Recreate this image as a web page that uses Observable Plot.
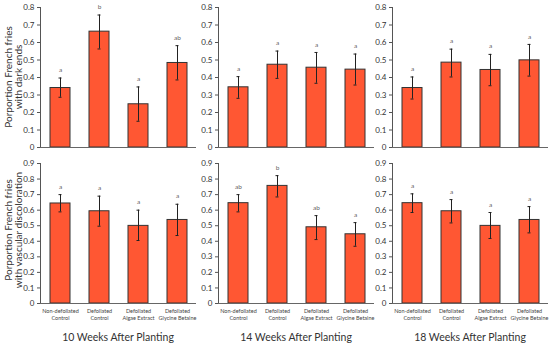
<!DOCTYPE html>
<html><head><meta charset="utf-8">
<script src="https://cdn.jsdelivr.net/npm/d3@7"></script>
<script src="https://cdn.jsdelivr.net/npm/@observablehq/plot@0.6"></script>
<style>
body{margin:0;background:#fff;}
#chart{position:relative;width:550px;height:345px;overflow:hidden;font-family:Lato, sans-serif;background:#fff;}
#chart svg{position:absolute;}
.lab{position:absolute;white-space:nowrap;color:#333;text-align:center;}
</style></head><body><div id="chart"></div>
<script>
// ---- data ----
const treatments = ["Non-defoliated Control", "Defoliated Control", "Defoliated Algae Extract", "Defoliated Glycine Betaine"];
const treatmentLabels = ["Non-defoliated\nControl", "Defoliated\nControl", "Defoliated\nAlgae Extract", "Defoliated\nGlycine Betaine"];
const timings = ["10 Weeks After Planting", "14 Weeks After Planting", "18 Weeks After Planting"];
const rowTitles = [["Porportion French fries", "with dark ends"], ["Porportion French fries", "with vascular discoloration"]];
const yTicksTop = [0, 0.1, 0.2, 0.3, 0.4, 0.5, 0.6, 0.7, 0.8];
const yTicksBottom = [0, 0.1, 0.2, 0.3, 0.4, 0.5, 0.6, 0.7, 0.8, 0.9];

// dark ends (per timing)
const darkMean = [[0.340, 0.662, 0.247, 0.483], [0.344, 0.473, 0.456, 0.445], [0.340, 0.485, 0.443, 0.498]];
const darkLow  = [[0.287, 0.563, 0.150, 0.386], [0.281, 0.395, 0.367, 0.357], [0.277, 0.403, 0.353, 0.408]];
const darkHigh = [[0.397, 0.757, 0.346, 0.582], [0.405, 0.551, 0.543, 0.534], [0.403, 0.562, 0.532, 0.589]];
const darkLetters = [["a", "b", "a", "ab"], ["a", "a", "a", "a"], ["a", "a", "a", "a"]];

// vascular discoloration (per timing)
const vascMean = [[0.643, 0.593, 0.499, 0.537], [0.645, 0.756, 0.490, 0.445], [0.645, 0.593, 0.499, 0.537]];
const vascLow  = [[0.589, 0.497, 0.405, 0.437], [0.589, 0.685, 0.411, 0.368], [0.585, 0.518, 0.418, 0.454]];
const vascHigh = [[0.700, 0.690, 0.600, 0.638], [0.700, 0.822, 0.565, 0.520], [0.705, 0.668, 0.585, 0.623]];
const vascLetters = [["a", "a", "a", "a"], ["ab", "b", "ab", "a"], ["a", "a", "a", "a"]];

// ---- layout ----
const chart = document.getElementById("chart");
const axisLeft = [40, 218, 392];
const ML = 30, MR = 6, innerW = 156;
const labelOf = new Map(treatments.map((t, i) => [t, treatmentLabels[i]]));

function panel(k, means, lows, highs, letters, ticks, bottom) {
  const rows = treatments.map((t, i) => ({t, m: means[i], lo: lows[i], hi: highs[i], letter: letters[i]}));
  const ymax = ticks[ticks.length - 1];
  const svg = Plot.plot({
    width: ML + innerW + MR,
    height: bottom ? 170 : 150,
    marginLeft: ML, marginRight: MR,
    marginTop: bottom ? 8 : 7,
    marginBottom: bottom ? 22 : 3,
    style: {fontFamily: "Lato, sans-serif", fontSize: "8px", background: "transparent", overflow: "visible", color: "#333"},
    x: {domain: treatments, paddingInner: 0.49, paddingOuter: 0.245, axis: bottom ? undefined : null, label: null},
    y: {domain: [0, ymax], label: null},
    marks: [
      Plot.axisY({ticks, tickSize: 3, tickPadding: 3, label: null, stroke: "#555",
        tickFormat: d => d === 0 ? "0" : d.toFixed(1)}),
      Plot.frame({anchor: "left", stroke: "#555"}),
      Plot.barY(rows, {x: "t", y: "m", fill: "#ff5733", stroke: "#333", strokeWidth: 1}),
      Plot.ruleY([0], {stroke: "#666"}),
      Plot.ruleX(rows, {x: "t", y1: "lo", y2: "hi", stroke: "#222", strokeWidth: 1}),
      Plot.tickY(rows, {x: "t", y: "lo", insetLeft: 8.5, insetRight: 8.5, stroke: "#222"}),
      Plot.tickY(rows, {x: "t", y: "hi", insetLeft: 8.5, insetRight: 8.5, stroke: "#222"}),
      Plot.text(rows, {x: "t", y: "hi", text: "letter", dy: -8, fontSize: 6.5, fill: "#666"}),
      bottom ? Plot.axisX({tickSize: 0, tickPadding: 4, fontSize: 5.5, lineHeight: 1.3, fill: "#444", label: null,
        tickFormat: d => labelOf.get(d)}) : null
    ]
  });
  svg.style.left = (axisLeft[k] - ML) + "px";
  svg.style.top = (bottom ? 155 : 0) + "px";
  chart.appendChild(svg);
}

for (let k = 0; k < 3; k++) {
  panel(k, darkMean[k], darkLow[k], darkHigh[k], darkLetters[k], yTicksTop, false);
  panel(k, vascMean[k], vascLow[k], vascHigh[k], vascLetters[k], yTicksBottom, true);
}

function label(lines, cx, cy, size, lh, rotate) {
  const d = document.createElement("div");
  d.className = "lab";
  d.style.left = cx + "px";
  d.style.top = cy + "px";
  d.style.fontSize = size + "px";
  d.style.lineHeight = lh + "px";
  d.style.transform = "translate(-50%,-50%)" + (rotate ? " rotate(-90deg)" : "");
  lines.forEach((s, i) => { if (i) d.appendChild(document.createElement("br")); d.appendChild(document.createTextNode(s)); });
  chart.appendChild(d);
}
label(rowTitles[0], 13, 77, 10, 10, true);
label(rowTitles[1], 13, 230, 10, 10, true);
timings.forEach((t, k) => label([t], axisLeft[k] + innerW / 2, 337, 10.5, 12, false));
</script></body></html>
